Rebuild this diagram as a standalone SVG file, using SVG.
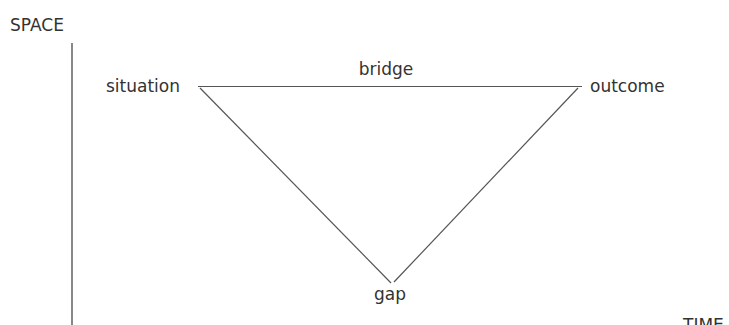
<svg xmlns="http://www.w3.org/2000/svg" width="729" height="325" viewBox="0 0 729 325">
<style>
text{font-family:"DejaVu Sans",Verdana,sans-serif;font-size:17px;fill:#333}
.ln{stroke:#555;stroke-width:1.2;fill:none}
.ax{stroke:#888;stroke-width:2;fill:none}
</style>
<rect width="729" height="325" fill="#fff"/>
<g id="axes">
<line class="ax" x1="72" y1="43" x2="72" y2="325"/>
<text id="space" x="10" y="31">SPACE</text>
<text id="time" x="683" y="331">TIME</text>
</g>
<g id="connectors">
<line class="ln" x1="198" y1="86.5" x2="582" y2="86.5"/>
<line class="ln" x1="200" y1="88" x2="391" y2="283"/>
<line class="ln" x1="578" y1="88" x2="394" y2="282"/>
</g>
<g id="situation"><text x="106" y="92">situation</text></g>
<g id="bridge"><text x="386" y="75" text-anchor="middle">bridge</text></g>
<g id="outcome"><text x="590" y="92">outcome</text></g>
<g id="gap"><text x="390" y="300" text-anchor="middle">gap</text></g>
</svg>
